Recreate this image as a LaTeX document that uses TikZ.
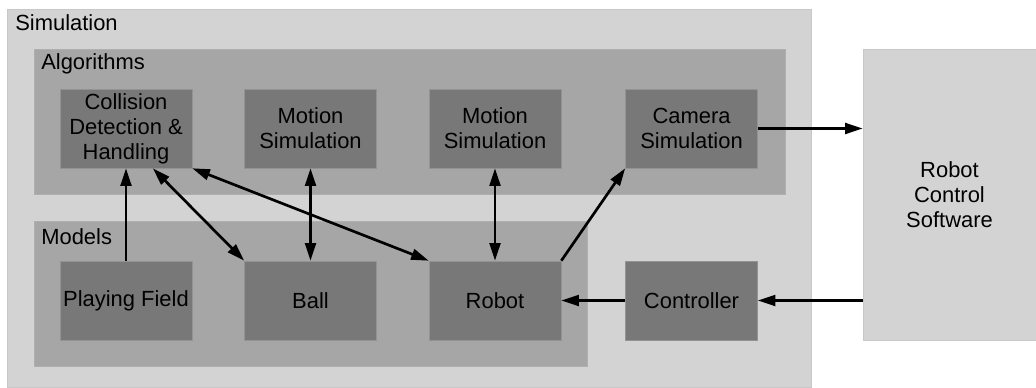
\documentclass[tikz,border=0pt]{standalone}
\usepackage{fontspec}
\setmainfont{Liberation Sans}
\usetikzlibrary{arrows.meta}
\definecolor{simgray}{HTML}{D3D3D3}
\definecolor{groupgray}{HTML}{A6A6A6}
\definecolor{boxgray}{HTML}{787878}

\begin{document}
\begin{tikzpicture}
  [x=0.025cm,y=-0.025cm,font=\fontsize{15.6}{17.8}\selectfont]
      \tikzstyle{sim_style} = [fill=simgray, draw=simgray!95!black, line width=0.4, inner sep=0]
      \tikzstyle{group_style} = [fill=groupgray, draw=groupgray!90!white, line width=0.4, inner sep=0, minimum height=3.625cm]
      \tikzstyle{box_style} = [fill=boxgray, draw=boxgray!80!white, line width=0.4, inner sep=0, align=center, minimum width=3.3cm, minimum height=1.975cm]
      \tikzstyle{label_style} = [anchor=base west, inner sep=0]
      \tikzstyle{edge_style} = [draw=black, line width=1.9, -{Triangle[length=4.4mm, width=2.7mm]}]
      \tikzstyle{both_style} = [edge_style, {Triangle[length=4.4mm, width=2.7mm]}-{Triangle[length=4.4mm, width=2.7mm]}]
  \useasboundingbox (0,0) rectangle (1036,387);
  % containers
  \node[sim_style, minimum width=20.1cm, minimum height=9.45cm] (sim) at (409,198.5) {};
  \node[sim_style, minimum width=4.325cm, minimum height=7.275cm, align=center] (rcs) at (949.5,194.5) {Robot\\Control\\Software};
  \node[group_style, minimum width=18.775cm] (alg) at (409.5,121.5) {};
  \node[group_style, minimum width=13.825cm] (mod) at (310.5,293.5) {};
  \node[label_style] (simlabel) at (15,31) {Simulation};
  \node[label_style] (alglabel) at (41,70) {Algorithms};
  \node[label_style] (modlabel) at (41,244) {Models};
  % algorithms
  \node[box_style] (coll) at (126,128.5) {Collision\\Detection \&\\Handling};
  \node[box_style] (mot1) at (310.5,128.5) {Motion\\Simulation};
  \node[box_style] (mot2) at (495,128.5) {Motion\\Simulation};
  \node[box_style] (cam) at (691.5,128.5) {Camera\\Simulation};
  % models
  \node[box_style] (field) at (126,300.5) {Playing Field};
  \node[box_style] (ball) at (310.5,300.5) {Ball};
  \node[box_style] (robot) at (495,300.5) {Robot};
  \node[box_style] (ctrl) at (691.5,300.5) {Controller};
  \draw[edge_style] (field.north) -- (coll.south);
  \draw[both_style] (coll.-56) -- (ball.north west);
  \draw[both_style] (coll.south east) -- (robot.north west);
  \draw[both_style] (mot1.south) -- (ball.north);
  \draw[both_style] (mot2.south) -- (robot.north);
  \draw[edge_style] (robot.north east) -- (cam.south west);
  \draw[edge_style] (cam.east) -- (cam.east -| rcs.west);
  \draw[edge_style] (ctrl.east -| rcs.west) -- (ctrl.east);
  \draw[edge_style] (ctrl.west) -- (robot.east);
\end{tikzpicture}
\end{document}
